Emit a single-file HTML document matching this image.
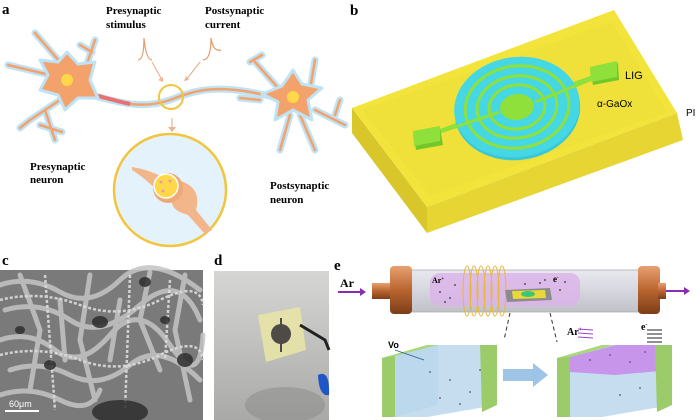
<!DOCTYPE html>
<html><head><meta charset="utf-8"><style>
html,body{margin:0;padding:0;background:#fff;width:700px;height:420px;overflow:hidden}
svg{display:block}
text{font-family:"Liberation Serif",serif;font-weight:bold}
</style></head><body>
<svg width="700" height="420" viewBox="0 0 700 420" xmlns="http://www.w3.org/2000/svg">
<defs>
<linearGradient id="ph" x1="0" y1="0" x2="0" y2="1"><stop offset="0" stop-color="#d6d6d4"/><stop offset="1" stop-color="#a9a9a7"/></linearGradient>
<linearGradient id="tube" x1="0" y1="0" x2="0" y2="1"><stop offset="0" stop-color="#e8e8ee"/><stop offset="0.5" stop-color="#d6d6df"/><stop offset="1" stop-color="#bfc1c8"/></linearGradient>
<linearGradient id="cu" x1="0" y1="0" x2="0" y2="1"><stop offset="0" stop-color="#e8a070"/><stop offset="0.5" stop-color="#b9652f"/><stop offset="1" stop-color="#7d3e18"/></linearGradient>
</defs>

<!-- Panel a -->
<text x="2" y="14" font-size="15">a</text>
<text x="106" y="14" font-size="11">Presynaptic</text>
<text x="106" y="28" font-size="11">stimulus</text>
<text x="205" y="14" font-size="11">Postsynaptic</text>
<text x="205" y="28" font-size="11">current</text>
<path d="M138 60 q6 0 6-22 q2 22 8 22" fill="none" stroke="#e59a6a" stroke-width="1.2"/>
<path d="M203 60 q8 0 8-22 q2 14 10 12" fill="none" stroke="#e59a6a" stroke-width="1.2"/>
<path d="M152 62 L162 80" stroke="#eeb38f" stroke-width="1.2"/><path d="M158 80 l5 2 l0-5z" fill="#eeb38f"/>
<path d="M200 62 L186 80" stroke="#eeb38f" stroke-width="1.2"/><path d="M184 81 l5-1 l-3-4z" fill="#eeb38f"/>
<g stroke="#bfe3f5" stroke-width="7" fill="none" stroke-linecap="round" stroke-linejoin="round">
<path d="M8 65 L50 75 M35 33 L60 62 M45 110 L55 140 M40 125 L62 132 M85 70 L95 40 M80 45 L92 52 M60 100 L30 120 M30 120 L20 128"/>
<path d="M90 95 C120 102 140 110 170 100 C190 92 210 85 250 92 L275 97"/>
<path d="M280 90 L255 62 M250 62 L262 55 M310 90 L315 60 M315 110 L345 125 M335 115 L340 100 M290 115 L280 150 M300 115 L315 150 M260 100 L240 98"/>
</g>
<g stroke="#f4a26b" stroke-width="2.5" fill="none" stroke-linecap="round" stroke-linejoin="round">
<path d="M8 65 L50 75 M35 33 L60 62 M45 110 L55 140 M40 125 L62 132 M85 70 L95 40 M80 45 L92 52 M60 100 L30 120 M30 120 L20 128"/>
<path d="M90 95 C120 102 140 110 170 100 C190 92 210 85 250 92 L275 97"/>
<path d="M280 90 L255 62 M250 62 L262 55 M310 90 L315 60 M315 110 L345 125 M335 115 L340 100 M290 115 L280 150 M300 115 L315 150 M260 100 L240 98"/>
</g>
<path d="M95 95 C110 99 120 102 130 104" stroke="#e97070" stroke-width="4" fill="none"/>
<path d="M67 52 L78 64 L95 62 L90 80 L98 98 L78 98 L65 110 L58 95 L40 90 L48 75 L40 60 L58 62z" fill="#f4a26b" stroke="#bfe3f5" stroke-width="3" stroke-linejoin="round"/>
<circle cx="67" cy="80" r="6" fill="#ffd84a"/>
<path d="M293 70 L302 84 L322 88 L308 100 L312 120 L293 110 L275 120 L278 102 L262 94 L282 86z" fill="#f4a26b" stroke="#bfe3f5" stroke-width="3" stroke-linejoin="round"/>
<circle cx="293" cy="97" r="6" fill="#ffd84a"/>
<circle cx="171" cy="97" r="12" fill="none" stroke="#f2c53d" stroke-width="2"/>
<path d="M172 118 L172 128" stroke="#eeb38f" stroke-width="1.2"/><path d="M168 127 l4 5 l4-5z" fill="#eeb38f"/>
<circle cx="170" cy="190" r="56" fill="#e4f3fb" stroke="#f2c53d" stroke-width="2.5"/>
<path d="M132 167 C150 170 158 175 165 178 L168 200 C158 192 148 180 132 170z" fill="#f3b58a"/>
<path d="M178 180 C195 185 200 195 196 210 L212 230 L205 234 L188 215 C178 212 170 208 172 198z" fill="#f3b58a"/>
<circle cx="168" cy="188" r="15" fill="#f0a878"/>
<circle cx="166" cy="186" r="12" fill="#ffd84a" stroke="#fff" stroke-width="1.5"/>
<g fill="#e89aa8"><circle cx="161" cy="182" r="1.5"/><circle cx="170" cy="181" r="1.5"/><circle cx="163" cy="191" r="1.5"/></g>
<text x="30" y="170" font-size="11">Presynaptic</text>
<text x="30" y="183" font-size="11">neuron</text>
<text x="270" y="189" font-size="11">Postsynaptic</text>
<text x="270" y="203" font-size="11">neuron</text>

<!-- Panel b -->
<text x="350" y="15" font-size="15">b</text>
<polygon points="352,108 427,207 427,233 352,133" fill="#d9c62a"/>
<polygon points="427,207 677,113 683,140 427,233" fill="#e6d533"/>
<polygon points="352,108 614,10 677,113 427,207" fill="#f2e43a"/>
<polygon points="362,110 612,22 667,112 430,196" fill="#efe13a"/>
<line x1="420" y1="138" x2="605" y2="73" stroke="#8fe03a" stroke-width="4"/>
<g transform="rotate(-8 517 107)">
<ellipse cx="517" cy="110" rx="63" ry="50" fill="#3ac8d8"/>
<ellipse cx="517" cy="107" rx="63" ry="50" fill="#45d8e4"/>
<ellipse cx="517" cy="107" rx="52" ry="41" fill="none" stroke="#8fe03a" stroke-width="3"/>
<ellipse cx="517" cy="107" rx="40" ry="31" fill="none" stroke="#8fe03a" stroke-width="3"/>
<ellipse cx="517" cy="107" rx="28" ry="22" fill="none" stroke="#8fe03a" stroke-width="3"/>
<ellipse cx="517" cy="107" rx="17" ry="13" fill="#8fe03a"/>
</g>
<line x1="440" y1="132" x2="500" y2="112" stroke="#8fe03a" stroke-width="3"/>
<line x1="535" y1="102" x2="590" y2="80" stroke="#8fe03a" stroke-width="3"/>
<polygon points="413,133 440,128 443,145 416,150" fill="#72c82a"/>
<polygon points="413,131 440,126 440,141 414,146" fill="#8fe03a"/>
<polygon points="590,69 618,63 619,80 593,85" fill="#72c82a"/>
<polygon points="590,67 617,61 617,77 591,82" fill="#8fe03a"/>
<text x="625" y="79" font-size="11" style="font-family:'Liberation Sans',sans-serif;font-weight:normal">LIG</text>
<text x="597" y="107" font-size="10" style="font-family:'Liberation Sans',sans-serif;font-weight:normal">α-GaOx</text>
<text x="686" y="116" font-size="10" style="font-family:'Liberation Sans',sans-serif;font-weight:normal">PI</text>

<!-- Panel c -->
<text x="2" y="265" font-size="15">c</text>
<rect x="0" y="270" width="203" height="150" fill="#7a7a7a"/>
<g stroke="#c4c4c4" stroke-width="5" fill="none" stroke-linecap="round" opacity="0.85">
<path d="M0 285 Q30 275 60 292 T120 280 T200 290"/>
<path d="M5 310 Q40 300 70 320 T140 305 T200 320"/>
<path d="M0 340 Q30 330 55 350 T110 335 T170 345 T203 335"/>
<path d="M10 370 Q40 360 70 375 T130 365 T200 380"/>
<path d="M0 395 Q30 385 60 400 T100 390"/>
<path d="M20 275 L40 330 L30 390 M90 275 L80 340 L95 400 M150 272 L140 320 L160 370 M185 275 L175 330 L190 400 M60 300 L65 360 M120 300 L110 360"/>
</g>
<g stroke="#dcdcdc" stroke-width="2.5" fill="none" stroke-dasharray="3,2" opacity="0.9">
<path d="M0 300 Q40 290 80 305 T160 300 T203 305"/>
<path d="M0 355 Q40 345 80 360 T160 355 T203 360"/>
<path d="M45 275 L55 410 M130 275 L125 410 M170 280 L165 360"/>
</g>
<g fill="#2e2e2e" opacity="0.85">
<ellipse cx="100" cy="322" rx="8" ry="6"/><ellipse cx="145" cy="282" rx="6" ry="5"/><ellipse cx="185" cy="360" rx="8" ry="7"/><ellipse cx="120" cy="412" rx="28" ry="12"/><ellipse cx="50" cy="365" rx="6" ry="5"/><ellipse cx="20" cy="330" rx="5" ry="4"/><ellipse cx="165" cy="320" rx="5" ry="4"/>
</g>
<text x="9" y="407" font-size="9" fill="#fff" style="font-family:'Liberation Sans',sans-serif;font-weight:normal">60μm</text>
<rect x="5" y="410" width="34" height="2" fill="#fff"/>

<!-- Panel d -->
<text x="214" y="265" font-size="15">d</text>
<rect x="214" y="271" width="115" height="149" fill="url(#ph)"/>
<ellipse cx="285" cy="405" rx="40" ry="18" fill="#8a8a8a" opacity="0.5"/>
<polygon points="258,315 300,307 306,350 266,362" fill="#e7e4a6" opacity="0.9"/>
<circle cx="281" cy="334" r="10" fill="#4e4a45"/>
<line x1="281" y1="318" x2="281" y2="352" stroke="#4e4a45" stroke-width="2"/>
<path d="M300 325 L325 340 L329 350" stroke="#222" stroke-width="3" fill="none"/>
<path d="M318 375 q12 -6 11 20 q-10 2 -11 -20z" fill="#1f55c7"/>

<!-- Panel e -->
<text x="334" y="270" font-size="15">e</text>
<text x="340" y="287" font-size="12">Ar</text>
<line x1="338" y1="292" x2="360" y2="292" stroke="#8a2ab5" stroke-width="2"/><path d="M360 288 l6 4 l-6 4z" fill="#8a2ab5"/>
<line x1="665" y1="291" x2="684" y2="291" stroke="#8a2ab5" stroke-width="2"/><path d="M684 287 l6 4 l-6 4z" fill="#8a2ab5"/>
<rect x="400" y="270" width="250" height="42" rx="4" fill="url(#tube)" stroke="#aaa" stroke-width="0.8"/>
<rect x="430" y="273" width="150" height="33" rx="10" fill="#dcb1ea" opacity="0.8"/>
<rect x="372" y="283" width="28" height="16" fill="url(#cu)"/>
<rect x="390" y="266" width="22" height="48" rx="4" fill="url(#cu)"/>
<rect x="638" y="266" width="22" height="48" rx="4" fill="url(#cu)"/>
<rect x="658" y="283" width="8" height="16" fill="url(#cu)"/>
<g fill="none" stroke="#e8b838" stroke-width="1">
<ellipse cx="467" cy="291" rx="4" ry="25"/><ellipse cx="474" cy="291" rx="4" ry="25"/><ellipse cx="481" cy="291" rx="4" ry="25"/><ellipse cx="488" cy="291" rx="4" ry="25"/><ellipse cx="495" cy="291" rx="4" ry="25"/><ellipse cx="502" cy="291" rx="4" ry="25"/>
</g>
<polygon points="505,290 550,288 552,300 507,302" fill="#8c8c8c"/>
<polygon points="512,291 545,290 546,298 513,299" fill="#e8d838"/>
<ellipse cx="528" cy="294" rx="7" ry="3" fill="#3ac870"/>
<text x="432" y="283" font-size="8">Ar<tspan font-size="5" dy="-3">+</tspan></text>
<text x="553" y="282" font-size="9">e<tspan font-size="5" dy="-3">-</tspan></text>
<g fill="#555"><circle cx="440" cy="292" r="1"/><circle cx="450" cy="298" r="1"/><circle cx="455" cy="285" r="1"/><circle cx="445" cy="302" r="1"/><circle cx="540" cy="283" r="1"/><circle cx="545" cy="280" r="1"/><circle cx="560" cy="290" r="1"/><circle cx="565" cy="282" r="1"/><circle cx="525" cy="284" r="1"/></g>
<line x1="510" y1="313" x2="504" y2="340" stroke="#333" stroke-dasharray="4,3"/>
<line x1="550" y1="313" x2="557" y2="342" stroke="#333" stroke-dasharray="4,3"/>
<text x="567" y="335" font-size="10">Ar<tspan font-size="6" dy="-4">+</tspan></text>
<g stroke="#a040d0" stroke-width="1"><line x1="578" y1="329" x2="593" y2="330"/><line x1="578" y1="333" x2="593" y2="334"/><line x1="578" y1="337" x2="593" y2="338"/></g>
<text x="641" y="330" font-size="10">e<tspan font-size="6" dy="-4">-</tspan></text>
<g stroke="#222" stroke-width="1"><line x1="647" y1="330" x2="662" y2="330"/><line x1="647" y1="334" x2="662" y2="334"/><line x1="647" y1="338" x2="662" y2="338"/><line x1="647" y1="342" x2="662" y2="342"/></g>
<polygon points="382,358 427,345 497,345 497,405 427,417 382,417" fill="#c6ddef"/>
<polygon points="382,358 395,355 395,417 382,417" fill="#9ccc6a"/>
<polygon points="382,358 427,345 438,345 395,356" fill="#a8d878"/>
<polygon points="480,345 497,345 497,405 482,412" fill="#9ccc6a"/>
<polygon points="395,356 438,345 438,405 395,417" fill="#b4d6ea" opacity="0.6"/>
<text x="388" y="348" font-size="9" style="font-family:'Liberation Sans',sans-serif">Vo</text>
<line x1="395" y1="350" x2="424" y2="360" stroke="#2a5a8a" stroke-width="0.7"/>
<g fill="#556"><circle cx="430" cy="372" r="0.9"/><circle cx="450" cy="380" r="0.9"/><circle cx="470" cy="392" r="0.9"/><circle cx="440" cy="398" r="0.9"/><circle cx="460" cy="404" r="0.9"/><circle cx="480" cy="370" r="0.9"/></g>
<polygon points="503,369 533,369 533,363 548,375 533,387 533,381 503,381" fill="#9ec5e6"/>
<polygon points="557,358 602,345 672,345 672,405 602,417 557,417" fill="#c6ddef"/>
<polygon points="570,357 616,345 672,345 672,370 615,375 570,372" fill="#c796ea"/>
<polygon points="557,358 570,356 570,417 557,417" fill="#9ccc6a"/>
<polygon points="557,358 602,345 614,345 570,357" fill="#a8d878"/>
<polygon points="655,345 672,345 672,405 657,412" fill="#9ccc6a"/>
<g fill="#556"><circle cx="590" cy="360" r="0.9"/><circle cx="610" cy="355" r="0.9"/><circle cx="630" cy="362" r="0.9"/><circle cx="645" cy="352" r="0.9"/><circle cx="620" cy="395" r="0.9"/><circle cx="640" cy="388" r="0.9"/></g>
</svg>
</body></html>
